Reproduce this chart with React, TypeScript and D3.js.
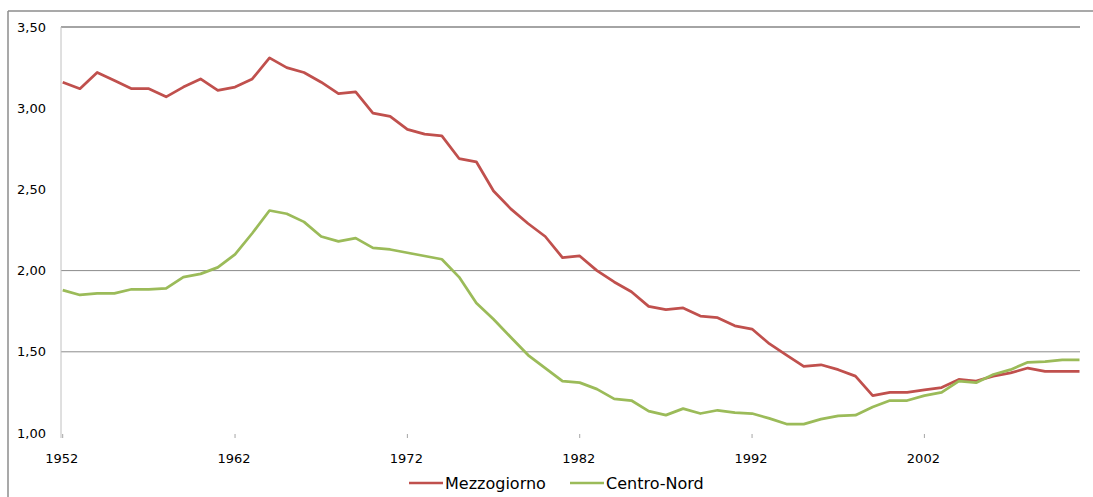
import * as d3 from 'd3'

const years = d3.range(1952, 2012)

const mezzogiorno = [
  3.16, 3.12, 3.22, 3.17, 3.12, 3.12, 3.07, 3.13, 3.18, 3.11,
  3.13, 3.18, 3.31, 3.25, 3.22, 3.16, 3.09, 3.10, 2.97, 2.95,
  2.87, 2.84, 2.83, 2.69, 2.67, 2.49, 2.38, 2.29, 2.21, 2.08,
  2.09, 2.00, 1.93, 1.87, 1.78, 1.76, 1.77, 1.72, 1.71, 1.66,
  1.64, 1.55, 1.48, 1.41, 1.42, 1.39, 1.35, 1.23, 1.25, 1.25,
  1.265, 1.28, 1.33, 1.32, 1.35, 1.37, 1.40, 1.38, 1.38, 1.38,
]

const centroNord = [
  1.88, 1.85, 1.86, 1.86, 1.885, 1.885, 1.89, 1.96, 1.98, 2.02,
  2.10, 2.23, 2.37, 2.35, 2.30, 2.21, 2.18, 2.20, 2.14, 2.13,
  2.11, 2.09, 2.07, 1.96, 1.80, 1.70, 1.59, 1.48, 1.40, 1.32,
  1.31, 1.27, 1.21, 1.20, 1.135, 1.11, 1.15, 1.12, 1.14, 1.125,
  1.12, 1.09, 1.055, 1.055, 1.085, 1.105, 1.11, 1.16, 1.20, 1.20,
  1.23, 1.25, 1.32, 1.31, 1.36, 1.39, 1.435, 1.44, 1.45, 1.45,
]

const yTicks = [1.0, 1.5, 2.0, 2.5, 3.0, 3.5]
const gridValues = [1.5, 2.0, 3.5]
const xTickYears = [1952, 1962, 1972, 1982, 1992, 2002]

const series = [
  { name: 'Mezzogiorno', values: mezzogiorno, color: '#c0504d' },
  { name: 'Centro-Nord', values: centroNord, color: '#9bbb59' },
]

const W = 1093
const H = 497
const font = 'DejaVu Sans, sans-serif'

const App = () => {
  const x = d3.scaleLinear().domain([1952, 2011]).range([62.7, 1079.5])
  const y = d3.scaleLinear().domain([1, 3.5]).range([433, 27])

  const line = d3.line<number>()
    .x((d, i) => x(years[i]))
    .y(d => y(d))

  const fmt = (v: number) => v.toFixed(2).replace('.', ',')

  const legendX = [409, 570]

  return (
    <div style={{ position: 'absolute', left: 0, top: 0 }}>
      <svg width={W} height={H} style={{ display: 'block', background: '#fff' }}>
        {/* outer frame */}
        <line x1={8} x2={W} y1={11} y2={11} stroke="#8c8c8c" strokeWidth={1.5} />
        <line x1={8} x2={8} y1={11} y2={H} stroke="#8c8c8c" strokeWidth={1.5} />

        {/* grid */}
        {gridValues.map(v => (
          <line key={v} x1={61} x2={1080} y1={y(v)} y2={y(v)}
            stroke={v === 3.5 ? '#868686' : '#8c8c8c'}
            strokeWidth={v === 3.5 ? 1.7 : 1} />
        ))}

        {/* y axis */}
        <line x1={61} x2={61} y1={27} y2={438} stroke="#c0c0c0" strokeWidth={1} />
        {yTicks.map(v => (
          <text key={v} x={46} y={y(v)} textAnchor="end" dominantBaseline="central"
            fontFamily={font} fontSize={13} fill="#000">{fmt(v)}</text>
        ))}

        {/* x ticks */}
        {xTickYears.map(yr => (
          <g key={yr}>
            <line x1={x(yr)} x2={x(yr)} y1={434} y2={438} stroke="#a6a6a6" />
            <text x={x(yr) - 1} y={458} textAnchor="middle" dominantBaseline="central"
              fontFamily={font} fontSize={13} fill="#000">{yr}</text>
          </g>
        ))}

        {/* lines */}
        {series.map(s => (
          <path key={s.name} d={line(s.values) ?? ''} fill="none" stroke={s.color}
            strokeWidth={2.75} strokeLinejoin="round" />
        ))}

        {/* legend */}
        {series.map((s, i) => (
          <g key={s.name}>
            <line x1={legendX[i]} x2={legendX[i] + 34} y1={483} y2={483}
              stroke={s.color} strokeWidth={2.5} />
            <text x={legendX[i] + 36} y={483} dominantBaseline="central"
              fontFamily={font} fontSize={16} fill="#000">{s.name}</text>
          </g>
        ))}
      </svg>
    </div>
  )
}

export default App
